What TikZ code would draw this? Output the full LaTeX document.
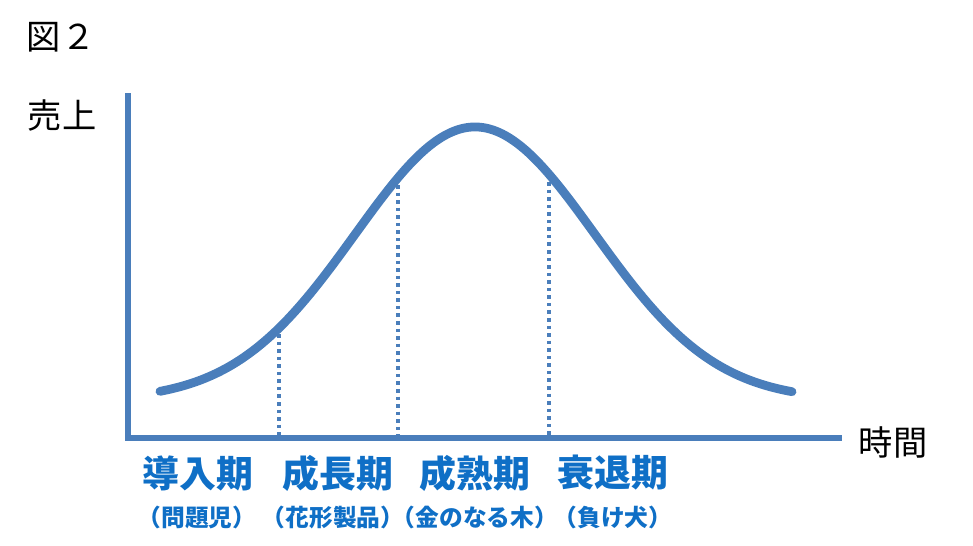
\documentclass[tikz,border=0pt]{standalone}
\usepackage{fontspec}
\setmainfont{Noto Sans CJK JP}
\definecolor{axisblue}{HTML}{4A7EBB}
\definecolor{labelblue}{HTML}{0F6FC6}
\tikzset{
  axisline/.style={draw=axisblue, line width=3pt},
  phaseline/.style={draw=axisblue, line width=1.8pt, dash pattern=on 2pt off 2.3pt},
  salescurve/.style={draw=axisblue, line width=5pt, line cap=round},
  phasename/.style={text=labelblue, font=\fontsize{21}{21}\selectfont\bfseries},
  phasesub/.style={text=labelblue, font=\fontsize{13.5}{13.5}\selectfont\bfseries},
  plain/.style={font=\fontsize{19.5}{19.5}\selectfont}
}
\begin{document}
\begin{tikzpicture}[x=0.02cm,y=-0.02cm]
\useasboundingbox (0,0) rectangle (973,545);
% titles
\node[plain] (fig) at (61,37) {図２};
\node[plain] (sales) at (62,115) {売上};
\node[plain] (time) at (893,442) {時間};
% axes
\coordinate (top) at (128,93);
\coordinate (origin) at (128,438);
\coordinate (right) at (842,438);
\draw[axisline] (top) -- ([yshift=-1.5pt]origin);
\draw[axisline] ([xshift=-1.5pt]origin) -- (right);
% phase borders
\coordinate (b1) at (279,334);
\coordinate (b2) at (398,185);
\coordinate (b3) at (549,182);
\draw[phaseline] (b1) -- (b1 |- origin);
\draw[phaseline] (b2) -- (b2 |- origin);
\draw[phaseline] (b3) -- (b3 |- origin);
% curve
\draw[salescurve] plot[domain=160:792, samples=120, smooth]
  (\x, {400-273*exp(-((\x-475)/120)^2/2)});
% phases
\node[phasename] (p1) at (198,473) {導入期};
\node[phasename] (p2) at (338,473) {成長期};
\node[phasename] (p3) at (475,473) {成熟期};
\node[phasename] (p4) at (613,473) {衰退期};
\node[phasesub] (s1) at (197,517) {（問題児）};
\node[phasesub] (s2) at (333,517) {（花形製品）};
\node[phasesub] (s3) at (475,517) {（金のなる木）};
\node[phasesub] (s4) at (613,517) {（負け犬）};
\end{tikzpicture}
\end{document}
